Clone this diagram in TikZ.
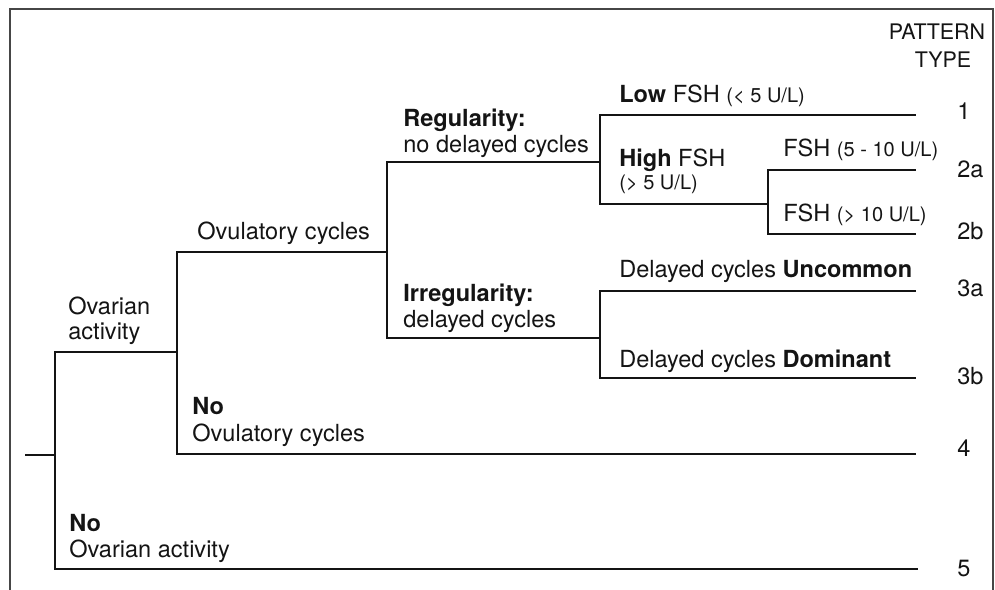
\documentclass[tikz,border=0pt]{standalone}
\usepackage{fontspec}
\setmainfont{TeX Gyre Heros}
\usepackage{tikz}
\usetikzlibrary{positioning}
\definecolor{inkblack}{RGB}{20, 20, 20}
\definecolor{framegray}{RGB}{70, 70, 70}
\newcommand{\smalltxt}[1]{{\fontsize{11.4}{14}\selectfont #1}}
\tikzset{
  lbl/.style={anchor=base west, inner sep=0pt, text=inkblack,
    font=\fontsize{13.4}{16}\selectfont},
  patnum/.style={lbl},
  head/.style={anchor=base, inner sep=0pt, text=inkblack,
    font=\fontsize{12.2}{15}\selectfont},
  branch/.style={draw=inkblack, line width=1.1pt},
  framebox/.style={draw=framegray, line width=1.2pt}
}

\begin{document}
\begin{tikzpicture}[x=0.02cm, y=-0.02cm]
\useasboundingbox (0,0) rectangle (995,590);
\draw[framebox] (10,600) -- (10,9) -- (993,9) -- (993,600);

% split points and line ends
\coordinate (root) at (25,455);
\coordinate (s0)   at (55,455);
\coordinate (s1)   at (177,352);
\coordinate (s2)   at (387,252);
\coordinate (s3)   at (600,162);
\coordinate (s4)   at (600,338);
\coordinate (s5)   at (768,204);
\coordinate (e1)   at (916,115);
\coordinate (e2a)  at (916,170);
\coordinate (e2b)  at (916,234);
\coordinate (e3a)  at (916,291);
\coordinate (e3b)  at (916,378);
\coordinate (e4)   at (916,454);
\coordinate (e5)   at (918,569);

\draw[branch] (root) -- (s0);
\draw[branch] (s0) |- (s1);
\draw[branch] (s0) |- (e5);
\draw[branch] (s1) |- (s2);
\draw[branch] (s1) |- (e4);
\draw[branch] (s2) |- (s3);
\draw[branch] (s2) |- (s4);
\draw[branch] (s3) |- (e1);
\draw[branch] (s3) |- (s5);
\draw[branch] (s5) |- (e2a);
\draw[branch] (s5) |- (e2b);
\draw[branch] (s4) |- (e3a);
\draw[branch] (s4) |- (e3b);

% branch labels
\node (act)    [lbl] at (68,315)  {Ovarian};
\node (act2)   [lbl] at (68,340)  {activity};
\node (ovu)    [lbl] at (197,240) {Ovulatory cycles};
\node (noovu)  [lbl] at (192,415) {\textbf{No}};
\node (noovu2) [lbl] at (192,442) {Ovulatory cycles};
\node (noact)  [lbl] at (69,532)  {\textbf{No}};
\node (noact2) [lbl] at (69,558)  {Ovarian activity};
\node (reg)    [lbl] at (403,127) {\textbf{Regularity:}};
\node (reg2)   [lbl] at (403,153) {no delayed cycles};
\node (irr)    [lbl] at (403,302) {\textbf{Irregularity:}};
\node (irr2)   [lbl] at (403,328) {delayed cycles};
\node (low)    [lbl] at (619,103) {\textbf{Low} FSH \smalltxt{(< 5 U/L)}};
\node (high)   [lbl] at (619,167) {\textbf{High} FSH};
\node (high2)  [lbl] at (619,190) {\smalltxt{(> 5 U/L)}};
\node (mid)    [lbl] at (783,157) {FSH \smalltxt{(5 - 10 U/L)}};
\node (top)    [lbl] at (783,222) {FSH \smalltxt{(> 10 U/L)}};
\node (unc)    [lbl] at (619,278) {Delayed cycles \textbf{Uncommon}};
\node (dom)    [lbl] at (619,368) {Delayed cycles \textbf{Dominant}};

% pattern types
\node (pat) [head] at (937,40) {PATTERN};
\node (typ) [head] at (943,68) {TYPE};
\node (n1)  [patnum] at (957,120) {1};
\node (n2a) [patnum] at (957,178) {2a};
\node (n2b) [patnum] at (957,240) {2b};
\node (n3a) [patnum] at (957,297) {3a};
\node (n3b) [patnum] at (957,385) {3b};
\node (n4)  [patnum] at (957,457) {4};
\node (n5)  [patnum] at (957,577) {5};
\end{tikzpicture}
\end{document}
